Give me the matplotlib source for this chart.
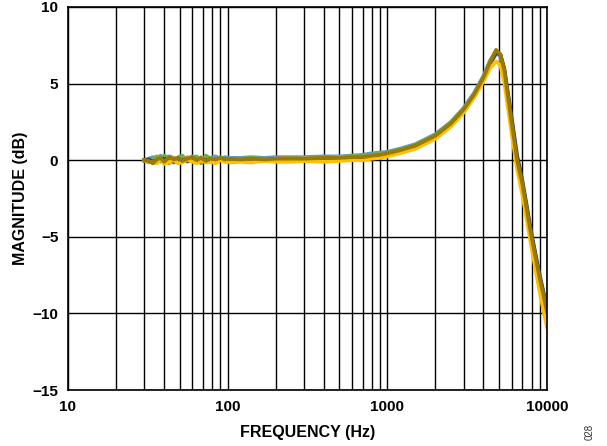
import matplotlib
matplotlib.use('Agg')
import matplotlib.pyplot as plt
from matplotlib.ticker import FixedLocator, NullFormatter
import numpy as np

plt.rcParams['font.family'] = ['Liberation Sans', 'DejaVu Sans']

# Data
freq = [30, 32, 34, 36, 38, 40, 43, 46, 49, 52, 56, 60, 64, 68, 73, 78, 84, 90, 96, 103,
        120, 140, 170, 200, 250, 300, 400, 500, 600, 700, 800, 900,
        1000, 1200, 1500, 2000, 2500, 3000, 3500, 4000, 4400, 4800, 5100, 5400,
        6000, 6500, 7000, 7500, 8000, 8500, 9000, 9500, 10000]

mag_lblue = [0.0, 0.1, 0.2, 0.0, 0.3, 0.1, 0.25, 0.15, 0.0, 0.2, 0.1, 0.25, 0.15, 0.05, 0.2, 0.15, 0.25, 0.1, 0.2, 0.15,
             0.15, 0.2, 0.15, 0.2, 0.2, 0.2, 0.25, 0.25, 0.3, 0.35, 0.45, 0.5,
             0.55, 0.75, 1.05, 1.7, 2.5, 3.4, 4.4, 5.5, 6.5, 7.1, 6.8, 5.7,
             2.3, -0.2, -1.7, -3.5, -5.2, -6.6, -7.9, -9.0, -10.1]
mag_orange = [0.0, -0.15, 0.1, -0.1, 0.2, 0.0, -0.2, 0.15, 0.05, -0.1, 0.2, 0.0, 0.1, -0.1, 0.05, 0.15, -0.05, 0.1, 0.0, 0.05,
              0.05, 0.1, 0.05, 0.1, 0.15, 0.1, 0.15, 0.2, 0.2, 0.25, 0.3, 0.35,
              0.45, 0.65, 0.95, 1.6, 2.4, 3.3, 4.3, 5.4, 6.4, 7.1, 6.85, 5.85,
              2.5, 0.0, -1.5, -3.3, -5.0, -6.4, -7.7, -8.8, -9.9]
mag_gray = [0.0, 0.05, -0.2, 0.1, -0.1, 0.15, 0.05, -0.15, 0.1, 0.2, -0.05, 0.1, -0.15, 0.2, 0.0, -0.1, 0.1, 0.05, -0.05, 0.1,
            0.0, 0.05, 0.1, 0.05, 0.1, 0.15, 0.1, 0.2, 0.25, 0.2, 0.3, 0.4,
            0.45, 0.6, 0.9, 1.55, 2.35, 3.25, 4.25, 5.35, 6.35, 6.95, 6.8, 5.8,
            2.45, -0.05, -1.6, -3.4, -5.1, -6.5, -7.8, -8.9, -10.0]
mag_green = [0.0, -0.1, 0.1, 0.25, 0.05, 0.3, 0.15, -0.15, 0.2, 0.3, -0.1, 0.15, 0.25, -0.2, 0.3, 0.1, 0.0, 0.2, 0.1, 0.05,
             0.1, 0.15, 0.1, 0.05, 0.15, 0.1, 0.2, 0.15, 0.3, 0.25, 0.35, 0.45,
             0.5, 0.7, 1.0, 1.65, 2.45, 3.35, 4.35, 5.45, 6.45, 7.15, 6.9, 5.8,
             2.4, -0.1, -1.6, -3.4, -5.1, -6.5, -7.8, -8.9, -10.0]
mag_dblue = [0.0, 0.05, -0.1, 0.0, -0.05, 0.1, 0.0, -0.1, 0.05, 0.0, -0.05, 0.05, -0.1, 0.05, 0.0, -0.05, 0.05, 0.0, 0.05, 0.0,
             0.0, 0.05, 0.0, 0.05, 0.05, 0.05, 0.1, 0.1, 0.15, 0.15, 0.2, 0.25,
             0.35, 0.55, 0.85, 1.45, 2.25, 3.15, 4.15, 5.25, 6.3, 7.0, 6.9, 6.0,
             2.8, 0.3, -1.3, -3.1, -4.8, -6.2, -7.5, -8.6, -9.6]
mag_yellow = [0.0, -0.1, -0.15, -0.2, 0.05, -0.25, -0.1, 0.0, -0.2, -0.15, 0.05, -0.1, -0.2, 0.0, -0.15, -0.1, -0.2, 0.0, -0.1, -0.15,
              -0.1, -0.15, -0.05, -0.1, -0.1, -0.05, -0.1, -0.05, 0.0, 0.0, 0.1, 0.15,
              0.25, 0.45, 0.75, 1.4, 2.2, 3.1, 4.1, 5.15, 6.0, 6.45, 6.2, 5.1,
              1.8, -0.6, -2.2, -4.0, -5.7, -7.2, -8.6, -9.8, -10.9]
mag_olive = [0.0, -0.05, -0.2, 0.05, 0.15, -0.1, 0.2, 0.05, 0.15, -0.05, 0.1, 0.2, 0.0, 0.15, -0.05, 0.1, 0.05, 0.15, 0.05, 0.1,
             0.05, 0.1, 0.05, 0.1, 0.1, 0.1, 0.15, 0.15, 0.2, 0.2, 0.3, 0.35,
             0.45, 0.65, 0.95, 1.6, 2.4, 3.3, 4.3, 5.4, 6.4, 7.2, 6.9, 5.9,
             2.5, 0.0, -1.5, -3.3, -5.0, -6.4, -7.7, -8.8, -9.9]

series = [mag_lblue, mag_orange, mag_gray, mag_green, mag_dblue, mag_yellow, mag_olive]
colors = ['#5B9BD5', '#ED7D31', '#A5A5A5', '#70AD47', '#264478', '#FFC000', '#9A7A05']

fig = plt.figure(figsize=(6.07, 4.46), dpi=100)
ax = fig.add_axes([68/607, 56/446, 479/607, 383/446])

for s, c in zip(series, colors):
    ax.plot(freq, s, color=c, linewidth=2.7, solid_joinstyle='round')

ax.set_xscale('log')
ax.set_xlim(10, 10000)
ax.set_ylim(-15, 10)
ax.set_yticks([-15, -10, -5, 0, 5, 10])
ax.set_xticks([10, 100, 1000, 10000])
ax.set_xticklabels(['10', '100', '1000', '10000'])
minor = [m * d for d in [10, 100, 1000] for m in range(2, 10)]
ax.xaxis.set_minor_locator(FixedLocator(minor))
ax.xaxis.set_minor_formatter(NullFormatter())
ax.grid(True, which='both', axis='x', color='black', linewidth=1.0)
ax.grid(True, which='major', axis='y', color='black', linewidth=1.0)
ax.set_axisbelow(True)
ax.tick_params(which='both', length=0, labelsize=11, pad=7)
for lab in ax.get_xticklabels() + ax.get_yticklabels():
    lab.set_fontweight('bold')
for sp in ax.spines.values():
    sp.set_linewidth(1.2)

ax.set_xlabel('FREQUENCY (Hz)', fontsize=11.5, fontweight='bold', labelpad=8)
ax.set_ylabel('MAGNITUDE (dB)', fontsize=11.5, fontweight='bold', labelpad=3)

fig.text(590/607, 1 - 432/446, '028', rotation=90, fontsize=7, ha='center', va='center', color='#333333')

fig.savefig('out.png', dpi=100)
